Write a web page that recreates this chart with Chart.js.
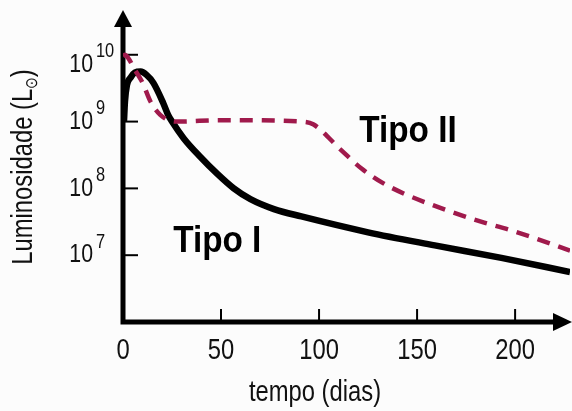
<!DOCTYPE html>
<html>
<head>
<meta charset="utf-8">
<script src="https://cdn.jsdelivr.net/npm/chart.js@4"></script>
<style>
  html, body { margin: 0; padding: 0; background: #fcfcfc; }
  #wrap { width: 572px; height: 411px; }
</style>
</head>
<body>
<div id="wrap"><canvas id="curvas" width="572" height="411"></canvas></div>
<script>
// dados (dias, luminosidade em L_sol)
const tipoIDias = [0.5, 1, 2, 4, 6, 9, 12, 15.5, 20.5, 23, 25, 31, 39.5, 48, 56.5, 65, 77, 91, 125, 159, 193, 228]
const tipoILum = [1e9, 2e9, 3.5e9, 4.6e9, 5.4e9, 5.6e9, 5e9, 3.8e9, 1.9e9, 1.26e9, 1e9, 5.6e8, 2.95e8, 1.66e8, 1e8, 6.9e7, 4.9e7, 3.8e7, 2.2e7, 1.4e7, 9.1e6, 5.6e6]

const tipoIIDias = [0, 1, 2.6, 6, 10, 14, 19, 27, 51, 91, 97, 111, 121.5, 132, 143.5, 156, 168, 183, 197, 210, 228]
const tipoIILum = [9.5e9, 1e10, 9e9, 6e9, 3.8e9, 2e9, 1.26e9, 1e9, 1.05e9, 1e9, 9.1e8, 3.8e8, 2.0e8, 1.23e8, 8.3e7, 5.9e7, 4.4e7, 3.15e7, 2.4e7, 1.8e7, 1.17e7]

const xTicks = [0, 50, 100, 150, 200]
const yExpoentes = [7, 8, 9, 10]

const rotulos = [
  {texto: 'Tipo I', dia: 25.6, lum: 1.1e7},
  {texto: 'Tipo II', dia: 120.5, lum: 5e8}
]

const FONTE = "'Liberation Sans', Arial, sans-serif"

function pontos(xs, ys){
  return xs.map((x, i) => ({x: x, y: ys[i]}))
}

// texto estreito (fonte condensada da figura original)
function estreito(ctx, txt, x, y, fonte, escala, align, base){
  ctx.save()
  ctx.translate(x, y)
  ctx.scale(escala, 1)
  ctx.font = fonte
  ctx.textAlign = align || 'left'
  ctx.textBaseline = base || 'middle'
  ctx.fillText(txt, 0, 0)
  ctx.restore()
}

const eixos = {
  id: 'eixos',
  beforeDatasetsDraw(chart){
    const ctx = chart.ctx
    const xs = chart.scales.x
    const ys = chart.scales.y
    const x0 = xs.getPixelForValue(0)
    const yb = ys.bottom
    ctx.save()
    ctx.strokeStyle = '#000'
    ctx.fillStyle = '#000'
    ctx.lineWidth = 5
    ctx.beginPath()
    ctx.moveTo(x0, ys.top + 12)
    ctx.lineTo(x0, yb)
    ctx.lineTo(xs.right - 14, yb)
    ctx.stroke()
    // setas
    ctx.beginPath()
    ctx.moveTo(x0, ys.top)
    ctx.lineTo(x0 - 9, ys.top + 17)
    ctx.lineTo(x0 + 9, ys.top + 17)
    ctx.closePath()
    ctx.fill()
    ctx.beginPath()
    ctx.moveTo(xs.right + 2, yb)
    ctx.lineTo(xs.right - 17, yb - 9)
    ctx.lineTo(xs.right - 17, yb + 9)
    ctx.closePath()
    ctx.fill()
    // marcas
    ctx.lineWidth = 2
    xTicks.forEach(t => {
      if(t == 0) return
      const px = xs.getPixelForValue(t)
      ctx.beginPath()
      ctx.moveTo(px, yb)
      ctx.lineTo(px, yb - 13)
      ctx.stroke()
    })
    yExpoentes.forEach(e => {
      const py = ys.getPixelForValue(Math.pow(10, e))
      ctx.beginPath()
      ctx.moveTo(x0, py)
      ctx.lineTo(x0 + 15, py)
      ctx.stroke()
    })
    ctx.restore()
  },
  afterDraw(chart){
    const ctx = chart.ctx
    const xs = chart.scales.x
    const ys = chart.scales.y
    ctx.save()
    ctx.fillStyle = '#111'
    // rotulos eixo x
    xTicks.forEach(t => {
      estreito(ctx, String(t), xs.getPixelForValue(t), 351, '29px ' + FONTE, 0.82, 'center')
    })
    estreito(ctx, 'tempo (dias)', 315, 393, '29px ' + FONTE, 0.82, 'center')
    // rotulos eixo y com expoente
    yExpoentes.forEach(e => {
      let py = ys.getPixelForValue(Math.pow(10, e))
      if(e == 10) py += 10
      estreito(ctx, '10', 93, py, '26px ' + FONTE, 0.82, 'right')
      estreito(ctx, String(e), 96, py - 13, '20px ' + FONTE, 0.82, 'left')
    })
    // titulo eixo y
    ctx.translate(24, 167)
    ctx.rotate(-Math.PI / 2)
    ctx.scale(0.82, 1)
    ctx.textBaseline = 'middle'
    ctx.textAlign = 'left'
    const t1 = 'Luminosidade (L'
    const sub = '\u2299'
    ctx.font = '29px ' + FONTE
    const w1 = ctx.measureText(t1).width
    ctx.font = '17px DejaVu Sans'
    const w2 = ctx.measureText(sub).width
    ctx.font = '29px ' + FONTE
    const w3 = ctx.measureText(')').width
    let x = -(w1 + w2 + w3) / 2
    ctx.fillText(t1, x, 0)
    x += w1
    ctx.font = '17px DejaVu Sans'
    ctx.fillText(sub, x, 9)
    x += w2
    ctx.font = '29px ' + FONTE
    ctx.fillText(')', x, 0)
    ctx.restore()
    // rotulos Tipo I / Tipo II
    ctx.save()
    ctx.fillStyle = '#000'
    rotulos.forEach(r => {
      estreito(ctx, r.texto, xs.getPixelForValue(r.dia), ys.getPixelForValue(r.lum), 'bold 37px ' + FONTE, 0.9, 'left', 'alphabetic')
    })
    ctx.restore()
  }
}

const ctx = document.getElementById('curvas')

new Chart(ctx, {
  type: 'line',
  data: {
    datasets: [{
      label: 'Tipo II',
      data: pontos(tipoIIDias, tipoIILum),
      borderColor: '#a01a4c',
      borderWidth: 4.5,
      borderDash: [13, 9],
      pointRadius: 0,
      fill: false,
      cubicInterpolationMode: 'monotone'
    }, {
      label: 'Tipo I',
      data: pontos(tipoIDias, tipoILum),
      borderColor: '#000',
      borderWidth: 6.5,
      pointRadius: 0,
      fill: false,
      cubicInterpolationMode: 'monotone'
    }]
  },
  options: {
    responsive: false,
    animation: false,
    events: [],
    layout: {
      padding: {left: 123, right: 2, top: 10, bottom: 89}
    },
    plugins: {
      legend: {display: false},
      tooltip: {enabled: false}
    },
    scales: {
      x: {
        type: 'linear',
        display: false,
        min: 0,
        max: 228
      },
      y: {
        type: 'logarithmic',
        display: false,
        min: 1e6,
        max: 4.68e10
      }
    }
  },
  plugins: [eixos]
})
</script>
</body>
</html>
